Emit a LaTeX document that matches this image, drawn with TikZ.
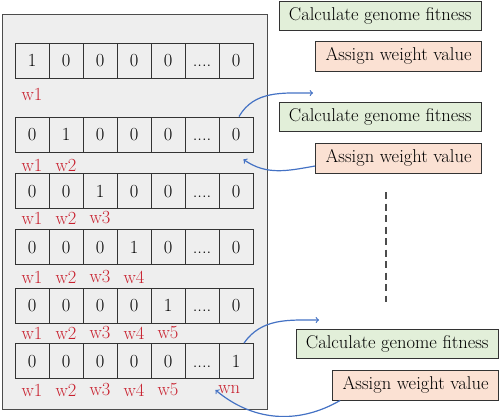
\documentclass[tikz,border=0pt]{standalone}
\usepackage{fontspec}
\usetikzlibrary{positioning}
\definecolor{panelgray}{HTML}{EEEEEE}
\definecolor{fitgreen}{HTML}{E2EFD9}
\definecolor{wtpink}{HTML}{FBE1D3}
\definecolor{wred}{HTML}{C8202E}
\definecolor{arrowblue}{HTML}{4472C4}
\newcommand{\celldots}{....}
\tikzset{
  cell/.style={draw=black!80, fill=panelgray, line width=0.9pt, minimum width=34pt, minimum height=35pt, inner sep=0pt, text height=12pt, text depth=0pt, font=\fontsize{18.5}{20}\selectfont},
  wlabel/.style={text=wred, inner sep=0pt, font=\fontsize{18.5}{20}\selectfont},
  fitbox/.style={draw=black!80, fill=fitgreen, line width=0.9pt, minimum height=29pt, inner xsep=10pt, anchor=east, font=\fontsize{18.5}{20}\selectfont},
  wtbox/.style={draw=black!80, fill=wtpink, line width=0.9pt, minimum height=30pt, inner xsep=10pt, anchor=east, font=\fontsize{18.5}{20}\selectfont},
  looparrow/.style={->, draw=arrowblue, line width=1.2pt}
}
\begin{document}
\begin{tikzpicture}[x=1pt, y=-1pt]
    \useasboundingbox (0,0) rectangle (500,416);

    % Panel of genomes
    \draw[fill=panelgray, draw=black!70, line width=1pt] (2,14) rectangle (267,409);

    % Genome rows and weight labels
    \foreach \r/\y/\ly/\vals/\ws in {
        1/60.5/94/{1,0,0,0,0,\celldots,0}/{1/w1},
        2/134.5/165/{0,1,0,0,0,\celldots,0}/{1/w1,2/w2},
        3/191/218/{0,0,1,0,0,\celldots,0}/{1/w1,2/w2,3/w3},
        4/247/277/{0,0,0,1,0,\celldots,0}/{1/w1,2/w2,3/w3,4/w4},
        5/305.5/333/{0,0,0,0,1,\celldots,0}/{1/w1,2/w2,3/w3,4/w4,5/w5},
        6/361/390/{0,0,0,0,0,\celldots,1}/{1/w1,2/w2,3/w3,4/w4,5/w5,6.8/wn}} {
        \foreach \v [count=\i] in \vals {
            \node[cell] (c\r-\i) at ({32+34*(\i-1)},\y) {\v};
        }
        \foreach \c/\w [count=\k] in \ws {
            \node[wlabel] (l\r-\k) at ({32+34*(\c-1)},\ly) {\w};
        }
    }

    % Fitness and weight steps
    \node[fitbox] (fit1) at (482,16) {Calculate genome fitness};
    \node[wtbox] (asg1) at (482,56) {Assign weight value};
    \node[fitbox] (fit2) at (482,116.5) {Calculate genome fitness};
    \node[wtbox] (asg2) at (482,158) {Assign weight value};
    \node[fitbox] (fit3) at (499,344) {Calculate genome fitness};
    \node[wtbox] (asg3) at (499,385) {Assign weight value};

    % Continuation
    \coordinate (d1) at (386,192);
    \coordinate (d2) at (386,302);
    \draw[black!70, line width=1.3pt, dash pattern=on 7pt off 4.5pt] (d1) -- (d2);

    % Loop arrows
    \coordinate (in2) at (313,93);
    \coordinate (in3) at (319,320);
    \draw[looparrow] ([xshift=3pt]c2-7.north) to[out=60, in=180] (in2);
    \draw[looparrow] ([yshift=-8pt]asg2.west) to[out=190, in=-35] ([xshift=-10pt, yshift=-7pt]c2-7.south east);
    \draw[looparrow] ([xshift=8pt]c6-7.north) to[out=55, in=180] (in3);
    \draw[looparrow] ([xshift=8pt]asg3.south west) to[out=-150, in=-40] ([xshift=-38pt, yshift=-11pt]c6-7.south east);
\end{tikzpicture}
\end{document}
